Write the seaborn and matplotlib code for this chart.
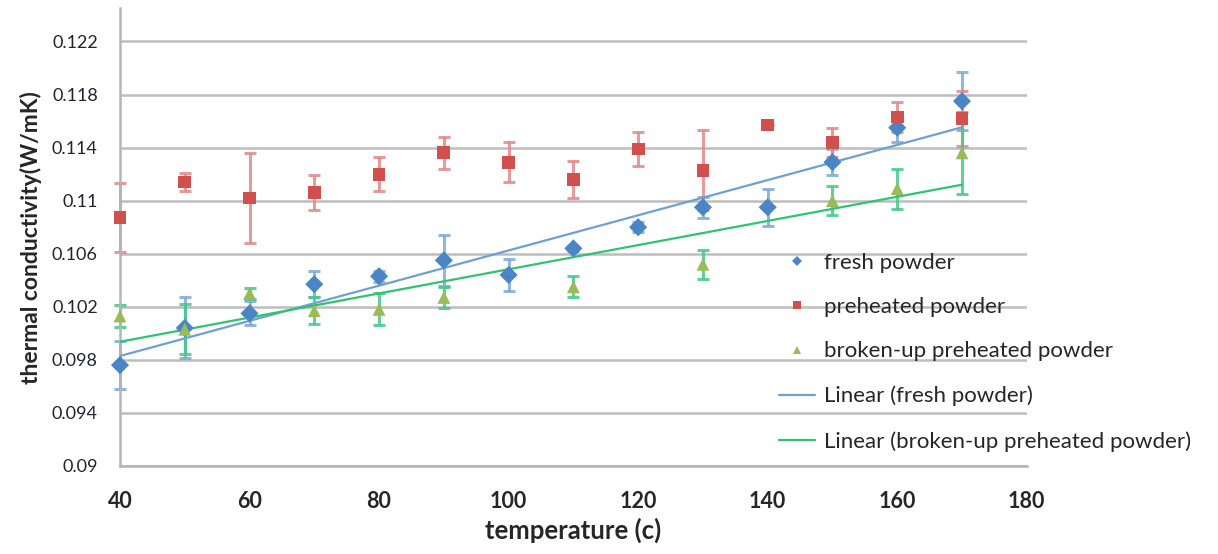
import matplotlib
matplotlib.use('Agg')
import matplotlib.pyplot as plt
import numpy as np
import pandas as pd
import seaborn as sns

# Data
temps = [40, 50, 60, 70, 80, 90, 100, 110, 120, 130, 140, 150, 160, 170]
fresh = [0.0976, 0.1004, 0.1015, 0.1037, 0.1043, 0.1055, 0.1044, 0.1064,
         0.1080, 0.1095, 0.1095, 0.1129, 0.1155, 0.1175]
fresh_err = [0.0018, 0.0023, 0.0009, 0.0010, 0.0004, 0.0019, 0.0012, 0.0002,
             0.0004, 0.0008, 0.0014, 0.0010, 0.0011, 0.0022]
preheated = [0.1087, 0.1114, 0.1102, 0.1106, 0.1120, 0.1136, 0.1129, 0.1116,
             0.1139, 0.1123, 0.1157, 0.1144, 0.1163, 0.1162]
preheated_err = [0.0026, 0.0007, 0.0034, 0.0013, 0.0013, 0.0012, 0.0015, 0.0014,
                 0.0013, 0.0030, 0.0, 0.0011, 0.0011, 0.0021]
broken_temps = [40, 50, 60, 70, 80, 90, 110, 130, 150, 160, 170]
broken = [0.1013, 0.1003, 0.1030, 0.1017, 0.1018, 0.1027, 0.1035, 0.1052,
          0.1100, 0.1109, 0.1136]
broken_err = [0.0008, 0.0019, 0.0004, 0.0010, 0.0012, 0.0008, 0.0008, 0.0011,
              0.0011, 0.0015, 0.0031]

y_ticks = [0.09, 0.094, 0.098, 0.102, 0.106, 0.11, 0.114, 0.118, 0.122]
y_labels = ['0.09', '0.094', '0.098', '0.102', '0.106', '0.11', '0.114', '0.118', '0.122']
x_ticks = [40, 60, 80, 100, 120, 140, 160, 180]

names = ['fresh powder', 'preheated powder', 'broken-up preheated powder']
trend_names = ['Linear (fresh powder)', 'Linear (broken-up preheated powder)']
colors = {'fresh powder': '#4A86C5', 'preheated powder': '#D0504D',
          'broken-up preheated powder': '#9BBB59'}
err_colors = {'fresh powder': '#7FAAD6', 'preheated powder': '#E08A88',
              'broken-up preheated powder': '#45C98A'}
markers = {'fresh powder': 'D', 'preheated powder': 's',
           'broken-up preheated powder': '^'}

df = pd.concat([
    pd.DataFrame({'temp': temps, 'k': fresh, 'err': fresh_err, 'sample': names[0]}),
    pd.DataFrame({'temp': temps, 'k': preheated, 'err': preheated_err, 'sample': names[1]}),
    pd.DataFrame({'temp': broken_temps, 'k': broken, 'err': broken_err, 'sample': names[2]}),
], ignore_index=True)

sns.set_theme(style='white')
plt.rcParams['font.family'] = ['Lato', 'DejaVu Sans']

fig, ax = plt.subplots(figsize=(12.18, 5.54), dpi=100)
fig.subplots_adjust(left=0.0985, right=0.843, top=0.985, bottom=0.159)

# error bars first so markers sit on top
for name in names:
    d = df[df['sample'] == name]
    eb = ax.errorbar(d['temp'], d['k'], yerr=d['err'], fmt='none',
                     ecolor=err_colors[name], elinewidth=2.2, capsize=4.5,
                     capthick=2.2, alpha=0.85, zorder=2)
    for art in eb.lines[1] + eb.lines[2]:
        art.set_clip_on(False)

# linear trend lines
sns.regplot(data=df[df['sample'] == names[0]], x='temp', y='k', scatter=False,
            ci=None, truncate=True, ax=ax, label=trend_names[0],
            line_kws={'color': '#6FA0D2', 'lw': 1.6, 'zorder': 3})
sns.regplot(data=df[df['sample'] == names[2]], x='temp', y='k', scatter=False,
            ci=None, truncate=True, ax=ax, label=trend_names[1],
            line_kws={'color': '#2FC46E', 'lw': 1.6, 'zorder': 3})

sns.scatterplot(data=df, x='temp', y='k', hue='sample', style='sample',
                palette=colors, markers=markers, s=85, linewidth=0,
                ax=ax, zorder=4, legend=True, clip_on=False)

ax.set_xlim(40, 180)
ax.set_ylim(0.09, 0.1245)
ax.set_xticks(x_ticks)
ax.set_xticklabels([str(t) for t in x_ticks], fontweight='bold', fontsize=15.5)
ax.set_yticks(y_ticks)
ax.set_yticklabels(y_labels, fontsize=13, color='#222233')
ax.tick_params(axis='x', length=0, pad=18)
ax.tick_params(axis='y', length=0, pad=16)
ax.yaxis.grid(True, color='#BDBDBD', lw=1.8)
ax.xaxis.grid(False)
for side in ['top', 'right']:
    ax.spines[side].set_visible(False)
for side in ['left', 'bottom']:
    ax.spines[side].set_color('#B5B5B5')
    ax.spines[side].set_linewidth(1.8)

ax.set_xlabel('temperature (c)', fontweight='bold', fontsize=18.5, labelpad=4)
ax.set_ylabel('thermal conductivity(W/mK)', fontweight='bold', fontsize=16.5, labelpad=7)

handles, labels = ax.get_legend_handles_labels()
lookup = dict(zip(labels, handles))
order = names + trend_names
leg = ax.legend([lookup[n] for n in order], order,
                loc='upper left', bbox_to_anchor=(0.705, 0.51), frameon=False,
                fontsize=16, handlelength=1.6, handletextpad=0.4,
                labelspacing=1.1, markerscale=0.6)
leg.set_zorder(5)

fig.savefig('out.png', dpi=100)
